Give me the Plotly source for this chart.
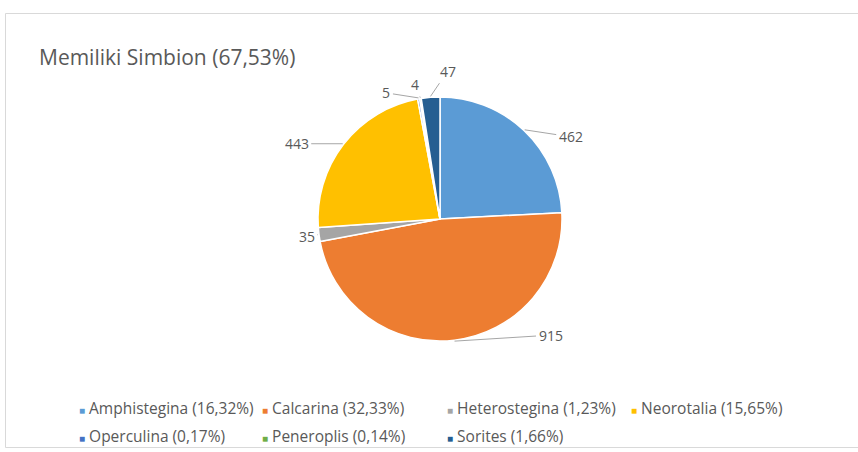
import math
import plotly.graph_objects as go

# ---------------- data ----------------
genera = ["Amphistegina", "Calcarina", "Heterostegina", "Neorotalia",
          "Operculina", "Peneroplis", "Sorites"]
counts = [462, 915, 35, 443, 5, 4, 47]
legend_pct = ["16,32%", "32,33%", "1,23%", "15,65%", "0,17%", "0,14%", "1,66%"]
title_text = "Memiliki Simbion (67,53%)"

# ---------------- style ----------------
colors = ["#5B9BD5", "#ED7D31", "#A5A5A5", "#FFC000",
          "#4472C4", "#70AD47", "#255E91"]
W, H = 858, 452
CX, CY, R = 440, 219, 122          # pie centre / radius in pixels
# pixel offsets of each data label from its slice edge point
label_offsets = [(46, 7), (96, -6), (-11, 2), (-46, 0), (-32, -5), (-5, -13), (17, -25)]
legend_cols = [81, 264, 449, 633]
legend_rows = [408, 436]
FONT = "Open Sans"
TXT = "#595959"

fig = go.Figure()
fig.add_trace(go.Pie(
    labels=genera, values=counts, sort=False, direction="clockwise",
    rotation=0, textinfo="none", hoverinfo="label+value",
    marker=dict(colors=colors, line=dict(color="white", width=1.5)),
    domain=dict(x=[(CX - R) / W, (CX + R) / W],
                y=[1 - (CY + R) / H, 1 - (CY - R) / H]),
    showlegend=False,
))

annotations = []
# data labels with leader lines
total = sum(counts)
cum = 0
for v, (ox, oy) in zip(counts, label_offsets):
    mid = (cum + v / 2) / total * 2 * math.pi
    cum += v
    px = CX + (R + 1) * math.sin(mid)
    py = CY - (R + 1) * math.cos(mid)
    annotations.append(dict(
        x=px / W, y=1 - py / H, xref="paper", yref="paper",
        text=str(v), showarrow=True, arrowhead=0, arrowwidth=1,
        arrowcolor="#A6A6A6", ax=ox, ay=oy, standoff=0, startstandoff=1,
        font=dict(family=FONT, size=14, color=TXT),
    ))

# title
annotations.append(dict(
    x=37 / W, y=1 - 57 / H, xref="paper", yref="paper", xanchor="left",
    yanchor="middle", text=title_text, showarrow=False,
    font=dict(family=FONT, size=21, color=TXT),
))

# legend (grid like Excel)
for i, (g, p, c) in enumerate(zip(genera, legend_pct, colors)):
    col = legend_cols[i % 4]
    row = legend_rows[i // 4]
    annotations.append(dict(
        x=(col - 4) / W, y=1 - row / H, xref="paper", yref="paper",
        xanchor="left", yanchor="middle", showarrow=False,
        text=f'<span style="color:{c};font-size:10px">■</span> {g} ({p})',
        font=dict(family=FONT, size=15.5, color=TXT),
    ))

fig.update_layout(
    width=W, height=H, margin=dict(l=0, r=0, t=0, b=0),
    paper_bgcolor="white", plot_bgcolor="white",
    annotations=annotations,
    shapes=[dict(type="rect", xref="paper", yref="paper",
                 x0=5.5 / W, x1=1.01, y0=1 - 447.5 / H, y1=1 - 13.5 / H,
                 line=dict(color="#D9D9D9", width=1), fillcolor="rgba(0,0,0,0)")],
)

fig.write_html("out.html")
